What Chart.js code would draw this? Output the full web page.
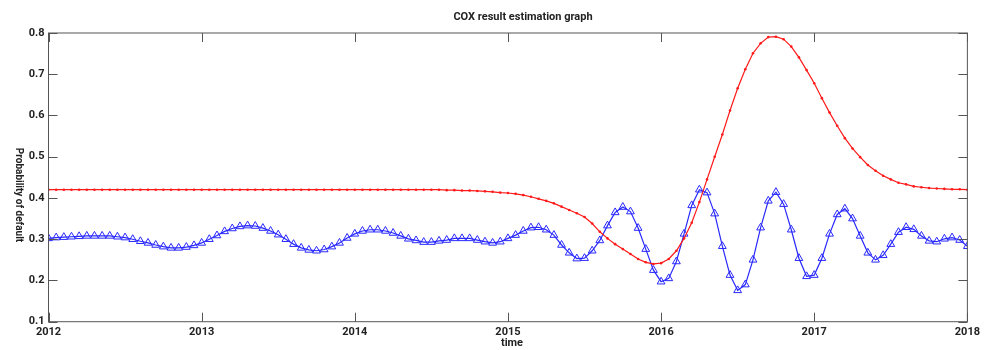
<!DOCTYPE html>
<html>
<head>
<meta charset="utf-8">
<script src="https://cdn.jsdelivr.net/npm/chart.js@4.4.0/dist/chart.umd.min.js"></script>
<style>
  html, body { margin: 0; padding: 0; background: #fff; }
</style>
</head>
<body>
<canvas id="chart" width="984" height="350"></canvas>
<script>
// sampling grid of the estimation: one value every 0.05 year from 2012
const startYear = 2012;
const stepYears = 0.05;

const yearTicks = [2012, 2013, 2014, 2015, 2016, 2017, 2018];
const probTicks = [0.1, 0.2, 0.3, 0.4, 0.5, 0.6, 0.7, 0.8];

// red curve (dots)
const coxRed = [
  0.420, 0.420, 0.420, 0.420, 0.420, 0.420, 0.420, 0.420, 0.420, 0.420,
  0.420, 0.420, 0.420, 0.420, 0.420, 0.420, 0.420, 0.420, 0.420, 0.420,
  0.420, 0.420, 0.420, 0.420, 0.420, 0.420, 0.420, 0.420, 0.420, 0.420,
  0.420, 0.420, 0.420, 0.420, 0.420, 0.420, 0.420, 0.420, 0.420, 0.420,
  0.420, 0.420, 0.420, 0.420, 0.420, 0.420, 0.420, 0.420, 0.420, 0.420,
  0.420, 0.420, 0.419, 0.419, 0.418, 0.418, 0.417, 0.416, 0.415, 0.413,
  0.412, 0.410, 0.407, 0.403, 0.398, 0.393, 0.387, 0.379, 0.371, 0.363,
  0.354, 0.338, 0.318, 0.302, 0.288, 0.276, 0.264, 0.252, 0.244, 0.240,
  0.242, 0.252, 0.272, 0.302, 0.340, 0.390, 0.445, 0.500, 0.554, 0.612,
  0.666, 0.712, 0.751, 0.775, 0.790, 0.791, 0.785, 0.767, 0.741, 0.710,
  0.678, 0.642, 0.607, 0.575, 0.545, 0.520, 0.499, 0.480, 0.466, 0.454,
  0.445, 0.437, 0.433, 0.428, 0.426, 0.424, 0.423, 0.422, 0.421, 0.421,
  0.420
];

// blue curve (triangles)
const coxBlue = [
  0.302, 0.304, 0.305, 0.306, 0.307, 0.308, 0.308, 0.308, 0.308, 0.306,
  0.304, 0.300, 0.295, 0.291, 0.286, 0.282, 0.279, 0.279, 0.281, 0.285,
  0.291, 0.300, 0.309, 0.319, 0.326, 0.331, 0.333, 0.332, 0.327, 0.320,
  0.311, 0.300, 0.288, 0.279, 0.274, 0.272, 0.275, 0.282, 0.291, 0.303,
  0.313, 0.320, 0.323, 0.323, 0.320, 0.315, 0.308, 0.301, 0.297, 0.293,
  0.293, 0.296, 0.298, 0.302, 0.302, 0.302, 0.298, 0.294, 0.291, 0.294,
  0.302, 0.310, 0.320, 0.328, 0.329, 0.323, 0.310, 0.286, 0.267, 0.253,
  0.254, 0.272, 0.297, 0.333, 0.365, 0.378, 0.367, 0.327, 0.276, 0.225,
  0.197, 0.205, 0.246, 0.313, 0.382, 0.420, 0.413, 0.362, 0.283, 0.213,
  0.176, 0.190, 0.250, 0.328, 0.393, 0.414, 0.385, 0.323, 0.254, 0.210,
  0.213, 0.254, 0.313, 0.360, 0.374, 0.350, 0.308, 0.267, 0.250, 0.261,
  0.288, 0.317, 0.329, 0.324, 0.308, 0.296, 0.294, 0.301, 0.304, 0.298,
  0.283
];

const toPoints = arr => arr.map((v, i) => ({ x: +(startYear + i * stepYears).toFixed(2), y: v }));

const tickFont = { family: 'Roboto', size: 11, weight: 'bold' };
const textColor = '#222';

// matlab-like box, inward ticks on all four sides and the axis texts
const matlabFrame = {
  id: 'matlabFrame',
  afterDraw(chart) {
    const { ctx, chartArea: a, scales: { x, y } } = chart;
    ctx.save();
    ctx.strokeStyle = '#555';
    ctx.lineWidth = 1;
    ctx.strokeRect(a.left, a.top, a.right - a.left, a.bottom - a.top);
    ctx.beginPath();
    yearTicks.forEach(t => {
      const px = Math.round(x.getPixelForValue(t)) + 0.5;
      ctx.moveTo(px, a.bottom); ctx.lineTo(px, a.bottom - 9);
      ctx.moveTo(px, a.top); ctx.lineTo(px, a.top + 9);
    });
    probTicks.forEach(v => {
      const py = Math.round(y.getPixelForValue(v)) + 0.5;
      ctx.moveTo(a.left, py); ctx.lineTo(a.left + 9, py);
      ctx.moveTo(a.right, py); ctx.lineTo(a.right - 9, py);
    });
    ctx.stroke();

    ctx.fillStyle = textColor;
    ctx.textAlign = 'center';
    ctx.textBaseline = 'middle';
    ctx.font = 'bold 11px Roboto';
    ctx.fillText('COX result estimation graph', 523, 17);
    ctx.fillText('time', 512, 343);
    ctx.translate(18, 195);
    ctx.rotate(Math.PI / 2);
    ctx.font = 'bold 10px Roboto';
    ctx.fillText('Probability of default', 0, 0);
    ctx.restore();
  }
};

new Chart(document.getElementById('chart'), {
  type: 'line',
  data: {
    datasets: [
      {
        data: toPoints(coxRed),
        borderColor: '#ff1a1a',
        borderWidth: 1.2,
        pointStyle: 'circle',
        pointRadius: 1.3,
        pointBackgroundColor: '#ff1a1a',
        pointBorderWidth: 0,
        tension: 0
      },
      {
        data: toPoints(coxBlue),
        borderColor: '#2828ff',
        borderWidth: 1.2,
        pointStyle: 'triangle',
        pointRadius: 4.5,
        pointBorderWidth: 1,
        pointBorderColor: '#2828ff',
        pointBackgroundColor: 'rgba(255,255,255,0)',
        tension: 0
      }
    ]
  },
  options: {
    responsive: false,
    animation: false,
    layout: { padding: { top: 33, right: 16, left: 0, bottom: 0 } },
    plugins: { legend: { display: false }, tooltip: { enabled: false } },
    scales: {
      x: {
        type: 'linear',
        min: 2012,
        max: 2018,
        afterBuildTicks: s => { s.ticks = yearTicks.map(v => ({ value: v })); },
        afterFit: s => { s.height = 28.3; },
        grid: { display: false, drawTicks: false },
        border: { display: false },
        ticks: { padding: 4, font: tickFont, color: textColor, maxRotation: 0, callback: v => String(v) }
      },
      y: {
        min: 0.1,
        max: 0.8,
        afterBuildTicks: s => { s.ticks = probTicks.map(v => ({ value: v })); },
        afterFit: s => { s.width = 48.5; },
        grid: { display: false, drawTicks: false },
        border: { display: false },
        ticks: { padding: 4, font: tickFont, color: textColor, callback: v => v.toFixed(1) }
      }
    }
  },
  plugins: [matlabFrame]
});
</script>
</body>
</html>
